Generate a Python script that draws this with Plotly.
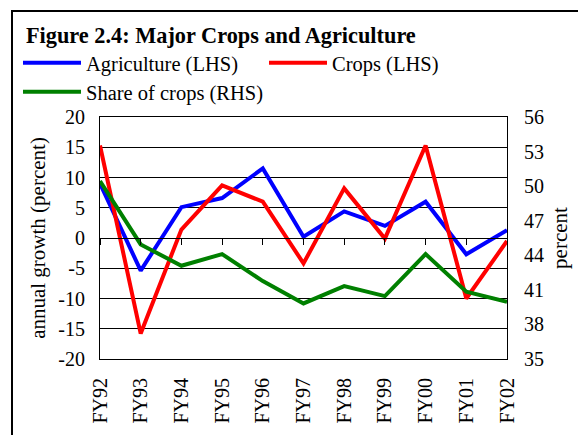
import plotly.graph_objects as go

years = ["FY92", "FY93", "FY94", "FY95", "FY96", "FY97", "FY98", "FY99", "FY00", "FY01", "FY02"]
agriculture = [9.0, -5.4, 5.1, 6.6, 11.5, 0.2, 4.4, 2.0, 6.0, -2.7, 1.3]
crops = [15.3, -15.8, 1.4, 8.7, 6.0, -4.2, 8.2, -0.1, 15.3, -10.0, -0.5]
share = [50.45, 44.94, 43.09, 44.1, 41.76, 39.82, 41.33, 40.46, 44.1, 40.84, 39.97]

left_ticks = [-20, -15, -10, -5, 0, 5, 10, 15, 20]
left_labels = ["-20", "-15", "-10", "-5", "0", "5", "10", "15", "20"]
right_ticks = [35, 38, 41, 44, 47, 50, 53, 56]

FONT = "Liberation Serif"
W, H = 578, 435
L, R, T, B = 100, 71, 117, 76
PW, PH = W - L - R, H - T - B  # plot area size in px


def px_x(x):
    return (x - L) / PW


def px_y(y):
    return (H - B - y) / PH


fig = go.Figure()
fig.add_trace(go.Scatter(x=years, y=agriculture, name="Agriculture (LHS)", mode="lines",
                         line=dict(color="#0000FF", width=4), legend="legend"))
fig.add_trace(go.Scatter(x=years, y=crops, name="Crops (LHS)", mode="lines",
                         line=dict(color="#FF0000", width=4), legend="legend"))
fig.add_trace(go.Scatter(x=years, y=share, name="Share of crops (RHS)", mode="lines",
                         line=dict(color="#008000", width=4), yaxis="y2", legend="legend2"))
# invisible trace to carry the zero-crossing category axis
fig.add_trace(go.Scatter(x=years, y=[None] * len(years), xaxis="x2", showlegend=False,
                         hoverinfo="skip", mode="lines"))

fig.update_layout(
    width=W, height=H,
    margin=dict(l=L, r=R, t=T, b=B, autoexpand=False),
    paper_bgcolor="white", plot_bgcolor="white",
    font=dict(family=FONT, size=20, color="black"),
    showlegend=True,
    title=dict(text="<b>Figure 2.4: Major Crops and Agriculture</b>",
               x=26 / W, xanchor="left", y=1 - 35 / H, yanchor="middle",
               font=dict(family=FONT, size=22.3, color="black")),
    xaxis=dict(type="category", categoryorder="array", categoryarray=years,
               range=[0, len(years) - 1], showgrid=False, ticks="",
               tickangle=-90, tickfont=dict(family=FONT, size=20),
               ticklabelstandoff=10,
               showline=True, linecolor="black", linewidth=1, mirror=True,
               zeroline=False),
    xaxis2=dict(type="category", categoryorder="array", categoryarray=years,
                overlaying="x", matches="x", anchor="free", position=0.5,
                showticklabels=False, ticks="outside", ticklen=6, tickcolor="black",
                showline=True, linecolor="black", linewidth=1, showgrid=False),
    yaxis=dict(range=[-20, 20], tickvals=left_ticks, ticktext=left_labels, showgrid=True,
               gridcolor="black", gridwidth=1, zeroline=False,
               showline=True, linecolor="black", linewidth=1,
               ticks="outside", ticklen=10, tickcolor="rgba(0,0,0,0)",
               title=dict(text="annual growth (percent)", standoff=6,
                          font=dict(family=FONT, size=21)),
               tickfont=dict(family=FONT, size=20)),
    yaxis2=dict(range=[35, 56], tickvals=right_ticks, overlaying="y", side="right",
                showgrid=False, zeroline=False, showline=True, linecolor="black",
                linewidth=1, ticks="outside", ticklen=12, tickcolor="rgba(0,0,0,0)",
                title=dict(text="percent", standoff=9, font=dict(family=FONT, size=21)),
                tickfont=dict(family=FONT, size=20)),
    legend=dict(orientation="h", x=px_x(18), xanchor="left", y=px_y(43),
                yanchor="top", bgcolor="rgba(0,0,0,0)", itemwidth=58,
                entrywidthmode="pixels", entrywidth=173,
                font=dict(family=FONT, size=20.5)),
    legend2=dict(orientation="h", x=px_x(18), xanchor="left", y=px_y(72),
                 yanchor="top", bgcolor="rgba(0,0,0,0)", itemwidth=58,
                 font=dict(family=FONT, size=20.5)),
    shapes=[dict(type="rect", xref="paper", yref="paper",
                 x0=px_x(12), x1=px_x(620),
                 y0=px_y(480), y1=px_y(11),
                 line=dict(color="black", width=2), layer="below")],
)

fig.write_html("out.html", config={"displayModeBar": False},
               post_script="document.body.style.margin='0px';")
